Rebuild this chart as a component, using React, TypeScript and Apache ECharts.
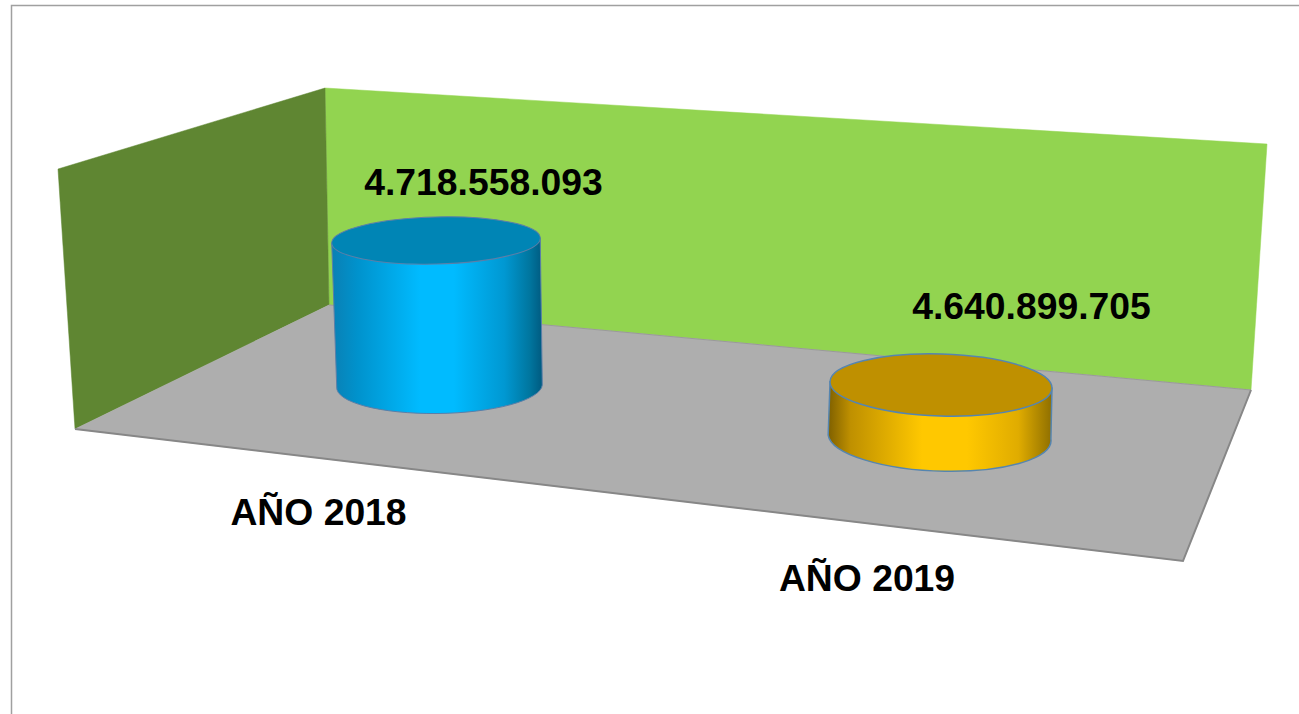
import React, { useEffect, useRef } from "react";
import * as echarts from "echarts";

const categories = ["AÑO 2018", "AÑO 2019"];
const values = [4718558093, 4640899705];
const valueLabels = ["4.718.558.093", "4.640.899.705"];

// Layout of the pseudo-3D scene (pixels), not data.
const W = 1299;
const H = 714;
const leftWall = [[58, 169], [325, 88], [329, 305], [75, 429]];
const backWall = [[325, 88], [1267, 144], [1251, 390], [329, 305]];
const floor = [[75, 429], [329, 305], [1251, 390], [1183, 561]];
const floorSlope = 0.107;
const shapes = [
  { lean: 3.5, rxTop: 104.3, ryTop: 23.5, rxBase: 102.8, ryBase: 27.5, tiltTop: 1.4, tiltBase: 1.1, valueDx: 47.5, valueDy: -58.5, catDx: -117.5, catDy: 126.5 },
  { lean: -1.5, rxTop: 111, ryTop: 31, rxBase: 111.4, ryBase: 34, tiltTop: -1.7, tiltBase: -2, valueDx: 90.5, valueDy: -79, catDx: -74, catDy: 138.5 },
];
const palette = [
  {
    top: "#0085B5",
    stroke: "#5B7FA8",
    strokeWidth: 1,
    stops: [[0, "#0A80B4"], [0.12, "#0092CC"], [0.42, "#00BBFF"], [0.58, "#00BBFF"], [0.82, "#0098D2"], [0.94, "#00769F"], [1, "#005A80"]],
  },
  {
    top: "#BF9000",
    stroke: "#5585B0",
    strokeWidth: 1.5,
    stops: [[0, "#7F6000"], [0.1, "#BF9000"], [0.42, "#FFC800"], [0.62, "#FFC800"], [0.85, "#E0AC00"], [1, "#8F6F00"]],
  },
];

const FONT = 'bold 37.3px "Liberation Sans", Arial, sans-serif';

const renderItem = (_params: any, api: any) => {
  const i = api.value(0);
  const [cx, cy] = api.coord([i, api.value(1)]);
  const s = shapes[i];
  const c = palette[i];
  const bx = cx + s.lean;
  const by = 385 + (cx - 436) * floorSlope;
  const rt = (s.tiltTop * Math.PI) / 180;
  const rb = (s.tiltBase * Math.PI) / 180;
  const tl = [cx - s.rxTop * Math.cos(rt), cy + s.rxTop * Math.sin(rt)];
  const tr = [cx + s.rxTop * Math.cos(rt), cy - s.rxTop * Math.sin(rt)];
  const bl = [bx - s.rxBase * Math.cos(rb), by + s.rxBase * Math.sin(rb)];
  const br = [bx + s.rxBase * Math.cos(rb), by - s.rxBase * Math.sin(rb)];
  const d =
    `M${tl[0]} ${tl[1]}L${bl[0]} ${bl[1]}` +
    `A${s.rxBase} ${s.ryBase} ${-s.tiltBase} 0 0 ${br[0]} ${br[1]}` +
    `L${tr[0]} ${tr[1]}Z`;
  return {
    type: "group",
    children: [
      {
        type: "path",
        shape: { pathData: d },
        style: {
          fill: new echarts.graphic.LinearGradient(
            0, 0, 1, 0,
            c.stops.map(([offset, color]) => ({ offset, color })) as any
          ),
          stroke: c.stroke,
          lineWidth: c.strokeWidth,
        },
      },
      {
        type: "ellipse",
        x: cx,
        y: cy,
        rotation: rt,
        shape: { cx: 0, cy: 0, rx: s.rxTop, ry: s.ryTop },
        style: { fill: c.top, stroke: c.stroke, lineWidth: c.strokeWidth },
      },
      {
        type: "text",
        style: {
          x: cx + s.valueDx,
          y: cy + s.valueDy,
          text: valueLabels[i],
          font: FONT,
          fill: "#000000",
          textAlign: "center",
          textVerticalAlign: "middle",
        },
      },
      {
        type: "text",
        style: {
          x: cx + s.catDx,
          y: by + s.catDy,
          text: categories[i],
          font: FONT,
          fill: "#000000",
          textAlign: "center",
          textVerticalAlign: "middle",
        },
      },
    ],
  };
};

export default function App() {
  const ref = useRef<HTMLDivElement>(null);
  useEffect(() => {
    const chart = echarts.init(ref.current!, null, { renderer: "svg" });
    chart.setOption({
      animation: false,
      backgroundColor: "#FFFFFF",
      grid: { left: 183.5, top: 100, width: 1010, height: 400, containLabel: false },
      xAxis: { type: "category", data: categories, show: false },
      yAxis: { type: "value", min: 4579095705, max: 4794066705, show: false },
      graphic: [
        {
          type: "polyline",
          z: 0,
          shape: { points: [[11.5, H], [11.5, 5.5], [W, 5.5]] },
          style: { fill: "none", stroke: "#A0A0A0", lineWidth: 1.5 },
        },
        {
          type: "polygon",
          z: 0,
          shape: { points: backWall },
          style: { fill: "#92D450", stroke: "#92D450", lineWidth: 0.5 },
        },
        {
          type: "polygon",
          z: 0,
          shape: { points: leftWall },
          style: { fill: "#5F8632", stroke: "#5F8632", lineWidth: 0.5 },
        },
        {
          type: "polygon",
          z: 1,
          shape: { points: floor },
          style: { fill: "#AEAEAE", stroke: "#AEAEAE", lineWidth: 0.5 },
        },
        {
          type: "polyline",
          z: 1,
          shape: { points: [floor[1], floor[2]] },
          style: { fill: "none", stroke: "#9A9A9A", lineWidth: 1 },
        },
        {
          type: "polyline",
          z: 1,
          shape: { points: [floor[0], floor[3], floor[2]] },
          style: { fill: "none", stroke: "#878787", lineWidth: 2 },
        },
      ],
      series: [
        {
          type: "custom",
          z: 5,
          renderItem,
          clip: false,
          encode: { x: 0, y: 1 },
          data: values.map((v, i) => [i, v]),
        },
      ],
    });
    return () => chart.dispose();
  }, []);
  return (
    <div
      ref={ref}
      style={{ position: "fixed", left: 0, top: 0, width: W, height: H }}
    />
  );
}
